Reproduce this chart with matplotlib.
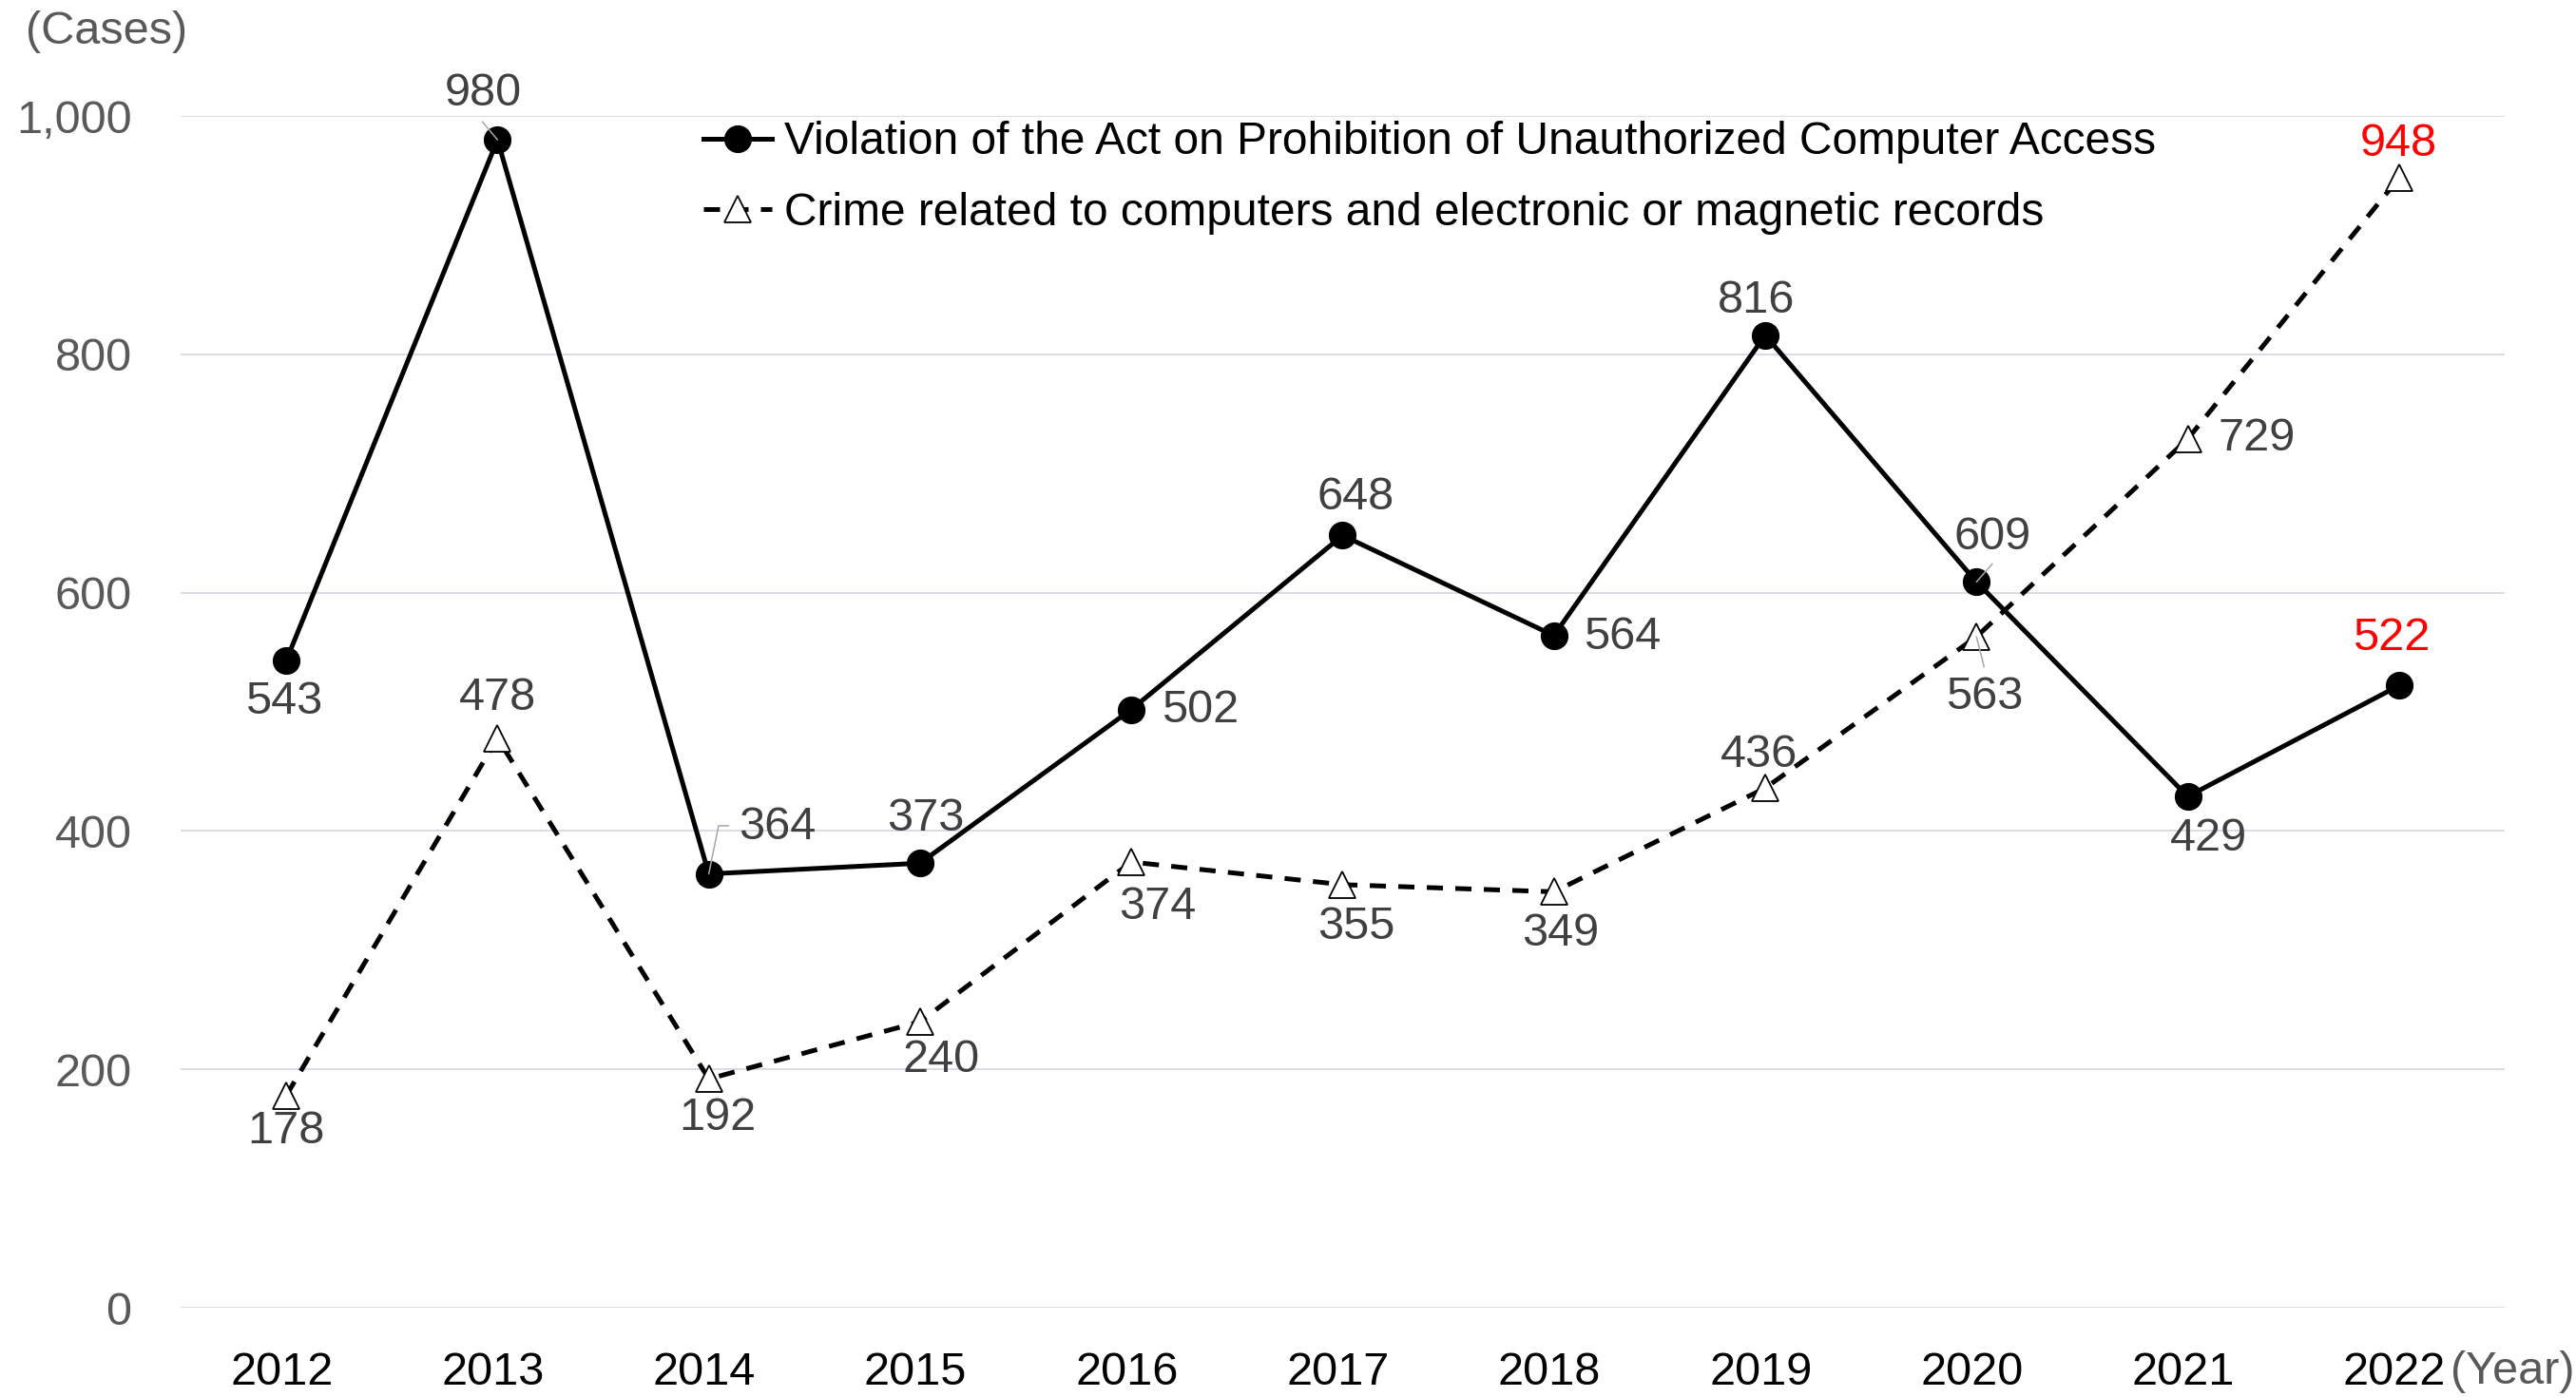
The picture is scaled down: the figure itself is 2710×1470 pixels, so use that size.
import matplotlib
matplotlib.use("Agg")
import matplotlib.pyplot as plt
from matplotlib.patches import Rectangle
from matplotlib.transforms import ScaledTranslation

plt.rcParams["font.family"] = ["Liberation Sans", "DejaVu Sans"]

years = ["2012", "2013", "2014", "2015", "2016", "2017", "2018", "2019", "2020", "2021", "2022"]
unauthorized_access = [543, 980, 364, 373, 502, 648, 564, 816, 609, 429, 522]
computer_crime = [178, 478, 192, 240, 374, 355, 349, 436, 563, 729, 948]

label_access = "Violation of the Act on Prohibition of Unauthorized Computer Access"
label_crime = "Crime related to computers and electronic or magnetic records"

# label offsets (points) for each year
off_access = [(-2, -31), (-11, 35), (52, 35), (4, 34), (52, -1), (10, 29),
              (52, -1), (-7, 26), (12, 34), (16, -32), (-6, 36)]
off_crime = [(0, -27), (0, 30), (7, -30), (16, -29), (20, -34), (10, -32),
             (5, -32), (-5, 25), (6, -46), (52, 0), (0, 26)]

LABEL = "#404040"
GREY = "#595959"
LEADER = "#A6A6A6"
FS = 35

fig = plt.figure(figsize=(27.1, 14.7), dpi=100)
ax = fig.add_axes([0.0701, 0.0639, 0.9022, 0.8531])
x = list(range(len(years)))

ax.plot(x, unauthorized_access, color="black", lw=3.6, marker="o", ms=20,
        mfc="black", mec="black", label=label_access, zorder=3, clip_on=False)
ax.plot(x, computer_crime, color="black", lw=3.6, dashes=(3.4, 2.6), marker="^",
        ms=20, mfc="white", mec="black", mew=1.3, label=label_crime, zorder=3,
        clip_on=False)

for series, offs in ((unauthorized_access, off_access), (computer_crime, off_crime)):
    for i, (v, off) in enumerate(zip(series, offs)):
        col = "#FF0000" if i == len(years) - 1 else LABEL
        ax.annotate(f"{v}", xy=(i, v), xytext=off, textcoords="offset points",
                    ha="center", va="center", fontsize=FS, color=col, zorder=5)

# leader lines
leaders = [
    ((1, unauthorized_access[1]), (-11.5, 13.7), None),
    ((2, unauthorized_access[2]), (15.1, 36.5), "angle,angleA=0,angleB=78.5"),
    ((8, unauthorized_access[8]), (12, 13.7), None),
    ((8, computer_crime[8]), (5.8, -22.8), None),
]
for xy, end, conn in leaders:
    props = dict(arrowstyle="-", color=LEADER, lw=1.1, shrinkA=0, shrinkB=0)
    if conn:
        props["connectionstyle"] = conn
    ax.annotate("", xy=xy, xytext=end, textcoords="offset points",
                arrowprops=props, zorder=4)

ax.set_xlim(-0.5, len(years) - 0.5)
ax.set_ylim(0, 1000)
ax.set_yticks(range(0, 1001, 200))
ax.set_yticklabels([f"{t:,}" for t in range(0, 1001, 200)])
ax.set_xticks(x)
ax.set_xticklabels(years)
ax.tick_params(axis="y", length=0, pad=37, labelsize=FS, labelcolor=GREY)
ax.tick_params(axis="x", length=0, pad=33, labelsize=FS, labelcolor="black")
shift = ScaledTranslation(-3.5 / 72, 0, fig.dpi_scale_trans)
for lbl in ax.get_xticklabels():
    lbl.set_transform(lbl.get_transform() + shift)
ax.grid(axis="y", color="#D3D7E0", lw=1.2, zorder=0)
for s in ax.spines.values():
    s.set_visible(False)

fig.text(112 / 2710, 1 - 33 / 1470, "(Cases)", fontsize=FS, color=GREY,
         ha="center", va="center")
fig.text(2578 / 2710, 1 - 1443 / 1470, "(Year)", fontsize=FS, color=GREY,
         ha="left", va="center")

# white block behind the legend text (handles sit outside it)
ax.add_patch(Rectangle((817 / 2710, 1 - 250 / 1470), 1500 / 2710, 150 / 1470,
                       transform=fig.transFigure, facecolor="white",
                       edgecolor="none", zorder=1))

leg = ax.legend(loc="upper left", bbox_to_anchor=(702 / 2710, 1 - 89 / 1470),
                bbox_transform=fig.transFigure, fontsize=34.5, frameon=False,
                handlelength=1.5, handletextpad=0.27, labelspacing=0.62,
                borderpad=0.3, markerscale=1.0)
leg.set_zorder(2)

fig.savefig("out.png", dpi=100, facecolor="white")
